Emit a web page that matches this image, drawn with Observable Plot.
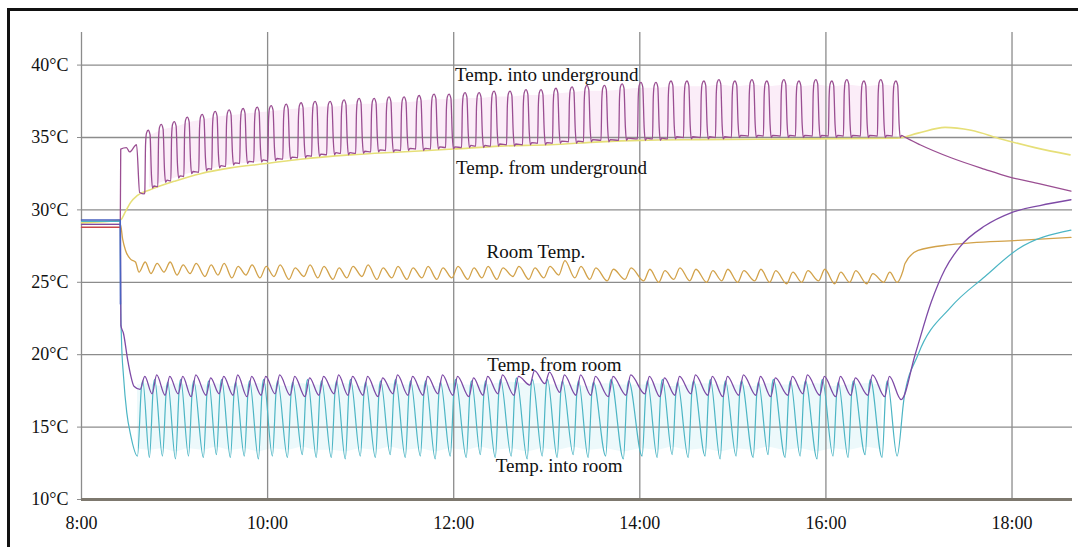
<!DOCTYPE html>
<html><head><meta charset="utf-8">
<script src="https://cdn.jsdelivr.net/npm/d3@7"></script>
<script src="https://cdn.jsdelivr.net/npm/@observablehq/plot@0.6"></script>
<style>
html,body{margin:0;background:#fff;overflow:hidden;}
#wrap{position:relative;width:1078px;height:547px;overflow:hidden;background:#fff;}
#frame{position:absolute;left:7px;top:8px;width:1200px;height:700px;border-left:3px solid #111;border-top:3px solid #111;pointer-events:none;}
#chart{position:absolute;left:0;top:0;}
</style></head><body>
<div id="wrap"><div id="chart"></div><div id="frame"></div></div>
<script>
// ---- data (times in minutes after 8:00, temperatures in °C) ----
const xTicks = [8, 10, 12, 14, 16, 18];
const yTicks = [10, 15, 20, 25, 30, 35, 40];

// peaks of "Temp. into underground" (= troughs of "Temp. into room")
const cycleMin = [43.8,52.2,60.6,69.0,78.6,87.0,96.0,105.0,114.1,123.1,
  132.8,142.4,151.4,161.1,170.1,179.8,189.5,199.1,208.8,218.5,
  228.1,237.8,248.1,257.2,266.8,277.1,287.4,297.1,306.7,317.1,
  326.7,338.0,349.4,361.5,371.2,380.9,391.2,402.1,411.8,422.1,
  433.1,442.7,453.7,463.4,474.3,484.6,494.3,505.3,516.2,525.9];
const firstRoomTrough = 36.1;

const ugHigh = [35.5,35.9,36.1,36.4,36.6,36.8,36.9,37.0,37.1,37.2,
  37.3,37.4,37.5,37.5,37.6,37.7,37.7,37.8,37.8,37.9,
  38.0,38.0,38.1,38.1,38.2,38.2,38.3,38.3,38.4,38.5,
  38.6,38.6,38.7,38.8,38.8,38.9,38.9,38.9,39.0,38.9,
  39.0,38.9,39.0,38.9,39.0,38.9,39.0,38.9,39.0,38.9];
const ugLow = [31.5,31.9,32.2,32.5,32.7,32.9,33.1,33.2,33.3,33.4,
  33.5,33.6,33.7,33.8,33.8,33.9,34.0,34.0,34.1,34.1,
  34.2,34.2,34.3,34.3,34.4,34.4,34.5,34.5,34.6,34.6,
  34.7,34.7,34.8,34.8,34.8,34.9,34.9,34.9,34.9,35.0,
  35.0,35.0,35.0,35.0,35.0,35.0,35.0,35.0,35.0,35.0];
const ugStart = [[25.0,28.9],[25.3,34.2],[29.0,34.3],[31.0,34.0],[35.5,34.5],[37.5,31.2],[40.5,31.1]];
const ugEnd = [[529.7,35.1],[540.7,34.5],[560.7,33.6],[582.6,32.8],[597.4,32.3],[618.0,31.8],[638.0,31.3]];

const fromUnderground = [[0,29.1],[25.1,29.3],[28.4,29.9],[31.6,30.5],[36.1,31.0],[44.5,31.4],[60.6,32.0],
  [76.7,32.5],[96.0,32.9],[119.2,33.2],[141.2,33.5],[173.4,33.8],[205.6,34.0],[239.7,34.2],
  [270.1,34.4],[302.3,34.5],[334.5,34.7],[360.3,34.8],[398.9,34.85],[463.4,34.9],[525.9,34.95],
  [539.4,35.3],[556.8,35.7],[573.6,35.5],[592.9,34.9],[614.8,34.3],[637.4,33.8]];

const roomHi = [26.4,26.3,26.4,26.2,26.3,26.2,26.3,26.1,26.2,26.1,
  26.2,26.0,26.2,26.1,26.0,26.1,26.2,26.0,26.1,26.0,
  26.1,26.0,26.1,26.0,26.1,26.0,26.1,26.0,26.1,26.5,
  26.1,26.0,25.9,26.0,25.9,25.8,26.0,25.9,25.8,25.9,
  25.8,25.9,25.8,25.7,25.8,25.9,25.7,25.8,25.6,25.7];
const roomLo = [25.7,25.6,25.7,25.5,25.6,25.4,25.5,25.3,25.5,25.3,
  25.4,25.2,25.4,25.3,25.2,25.3,25.4,25.2,25.3,25.2,
  25.3,25.2,25.3,25.2,25.3,25.2,25.4,25.2,25.3,25.5,
  25.3,25.2,25.1,25.2,25.1,25.0,25.2,25.1,25.0,25.1,
  25.0,25.1,25.0,24.9,25.0,25.1,24.9,25.0,24.9,25.0];
const roomStart = [[0,29.0],[25.1,29.0],[26.5,28.0],[28.4,27.2],[31.6,26.6],[34.8,26.4]];
const roomEnd = [[525.9,25.0],[529.7,25.8],[531.0,26.3],[539.4,27.2],[560.7,27.6],[603.9,27.9],[638.0,28.1]];

const intoRoomLo = [13.0,12.9,13.0,12.8,13.0,12.9,13.1,12.9,13.0,12.8,
  13.0,12.9,13.1,12.9,12.9,12.8,13.0,12.9,13.1,12.9,
  13.0,12.8,13.0,12.9,13.1,12.9,13.0,12.8,13.0,12.9,
  13.1,12.9,13.0,12.8,13.0,12.9,13.1,12.9,13.0,12.8,
  13.0,12.9,13.1,12.9,13.0,12.8,13.0,12.9,13.1,12.9,13.0];
const intoRoomHi = [18.2,18.3,18.1,18.3,18.2,18.2,18.3,18.1,18.2,18.3,
  18.2,18.1,18.3,18.2,18.2,18.3,18.1,18.2,18.3,18.2,
  18.2,18.1,18.3,18.2,18.2,18.3,18.4,18.3,18.3,18.2,
  18.2,18.1,18.3,18.2,18.2,18.3,18.1,18.2,18.3,18.2,
  18.2,18.1,18.3,18.2,18.2,18.3,18.1,18.2,18.3,18.2];
const intoRoomStart = [[0,29.2],[25.0,29.2],[25.2,24.0],[25.8,21.0],[27.1,18.5],[29.2,16.0],[31.6,14.5]];
const intoRoomEnd = [[530.4,17.0],[539.4,20.0],[560.7,23.3],[582.6,25.4],[603.9,27.3],[638.0,28.6]];

const fromRoomHi = [18.5,18.6,18.5,18.5,18.6,18.4,18.5,18.6,18.5,18.5,
  18.6,18.5,18.4,18.5,18.6,18.5,18.5,18.4,18.6,18.5,
  18.5,18.6,18.5,18.4,18.5,18.6,18.5,18.9,18.8,18.6,
  18.6,18.5,18.5,18.6,18.5,18.4,18.5,18.6,18.5,18.5,
  18.6,18.5,18.4,18.5,18.6,18.5,18.5,18.4,18.6,18.5];
const fromRoomLo = [17.6,17.3,17.2,17.3,17.1,17.2,17.3,17.2,17.1,17.2,
  17.3,17.2,17.1,17.2,17.3,17.2,17.2,17.1,17.3,17.2,
  17.2,17.3,17.2,17.1,17.2,17.3,17.2,17.9,18.0,17.4,
  17.2,17.2,17.1,17.2,17.3,17.1,17.2,17.3,17.2,17.1,
  17.2,17.2,17.1,17.2,17.3,17.2,17.1,17.2,17.2,17.1];
const fromRoomStart = [[0,29.0],[25.1,29.0],[25.4,22.0],[27.0,21.5],[30.0,19.5],[34.0,17.8]];
const fromRoomEnd = [[528.5,16.9],[537.5,20.0],[547.8,23.6],[556.8,25.9],[566.0,27.4],[582.6,28.9],[599.3,29.8],[618.0,30.3],[638.0,30.7]];

const idleRed = [[0,28.8],[25.0,28.8]];
const idleBlue = [[0,29.3],[25.0,29.3],[25.1,23.5]];

const labelText = ["Temp. into underground","Temp. from underground","Room Temp.","Temp. from room","Temp. into room"];
const labelAt = [[300,39.3],[303,32.9],[293,27.1],[305,19.3],[308,12.3]];

// ---- build rows ----
const hx = m => 8 + m / 60;
const P = arr => arr.map(([m, v]) => ({x: hx(m), y: v}));
const troughT = [firstRoomTrough, ...cycleMin];

const ug = P(ugStart);
let prev = ugStart[ugStart.length - 1][1];
cycleMin.forEach((t, k) => {
  const hi = ugHigh[k], lo = ugLow[k];
  ug.push(...P([[t - 3.0, prev + 0.1], [t - 2.5, hi - 1.0], [t - 1.9, hi - 0.2], [t - 0.8, hi],
                [t + 0.4, hi - 0.3], [t + 1.3, lo + 0.9], [t + 2.0, lo], [t + 3.0, lo + 0.15]]));
  prev = lo;
});
ug.push(...P(ugEnd));

const ugBand = cycleMin.map((t, k) => ({x: hx(t), y1: ugLow[k], y2: ugHigh[k] - 0.4}));

const room = P(roomStart);
roomHi.forEach((h, k) => {
  room.push(...P([[troughT[k] + 1.0, roomLo[k]], [troughT[k] + 5.0, h]]));
});
room.push(...P(roomEnd));

const intoRoom = P(intoRoomStart);
troughT.forEach((t, k) => {
  intoRoom.push(...P([[t, intoRoomLo[k]]]));
  if (k < intoRoomHi.length) intoRoom.push(...P([[t + 2.6, intoRoomHi[k] - 0.4], [t + 3.4, intoRoomHi[k]]]));
});
intoRoom.push(...P(intoRoomEnd));
const irBand = troughT.slice(0, intoRoomHi.length).map((t, k) => ({x: hx(t), y1: intoRoomLo[k] + 0.5, y2: intoRoomHi[k] - 0.3}));

const fromRoom = P(fromRoomStart);
fromRoomHi.forEach((h, k) => {
  fromRoom.push(...P([[troughT[k] + 1.7, fromRoomLo[k]], [troughT[k] + 4.7, h]]));
});
fromRoom.push(...P(fromRoomEnd));

const fu = P(fromUnderground);
const labels = labelText.map((s, i) => ({text: s, x: hx(labelAt[i][0]), y: labelAt[i][1]}));

const chart = Plot.plot({
  width: 1078, height: 547,
  marginLeft: 81, marginRight: 6, marginTop: 32, marginBottom: 48,
  style: {fontFamily: "'Liberation Serif', 'Times New Roman', serif", fontSize: "18px", color: "#111", background: "transparent"},
  x: {domain: [8, hx(639)]},
  y: {domain: [10, 42.25]},
  marks: [
    Plot.areaY(ugBand, {x: "x", y1: "y1", y2: "y2", fill: "#fbedf8", curve: "monotone-x"}),
    Plot.areaY(irBand, {x: "x", y1: "y1", y2: "y2", fill: "#edf9fb", curve: "monotone-x"}),
    Plot.ruleX(xTicks, {stroke: "#8c8c8c", strokeWidth: 1.3}),
    Plot.ruleY(yTicks.filter(d => d > 10), {stroke: "#8c8c8c", strokeWidth: 1.3}),
    Plot.axisY({ticks: yTicks, tickFormat: d => `${d}°C`, tickSize: 4, tickPadding: 9, stroke: "#8c8c8c", label: null, fontSize: 18, fill: "#111"}),
    Plot.axisX({ticks: xTicks, tickFormat: d => `${d}:00`, tickSize: 0, tickPadding: 17, label: null, fontSize: 18, fill: "#111", style: {letterSpacing: "1.5px"}}),
    Plot.line(fu, {x: "x", y: "y", stroke: "#e6df78", strokeWidth: 1.6, curve: "monotone-x"}),
    Plot.line(ug, {x: "x", y: "y", stroke: "#9a4e92", strokeWidth: 1.3, curve: "monotone-x"}),
    Plot.line(room, {x: "x", y: "y", stroke: "#d2a24a", strokeWidth: 1.3, curve: "monotone-x"}),
    Plot.line(intoRoom, {x: "x", y: "y", stroke: "#4cb5c4", strokeWidth: 1.2, curve: "monotone-x"}),
    Plot.line(fromRoom, {x: "x", y: "y", stroke: "#7e4aa6", strokeWidth: 1.3, curve: "monotone-x"}),
    Plot.line(P(idleRed), {x: "x", y: "y", stroke: "#c9484a", strokeWidth: 1.5}),
    Plot.line(P(idleBlue), {x: "x", y: "y", stroke: "#4a62c0", strokeWidth: 1.5}),
    Plot.ruleY([10], {stroke: "#7d786e", strokeWidth: 3}),
    Plot.text(labels, {x: "x", y: "y", text: "text", fill: "#111", fontSize: 19, stroke: "none", style: {letterSpacing: "0.6px"}})
  ]
});
document.getElementById("chart").appendChild(chart);
</script>
</body></html>
